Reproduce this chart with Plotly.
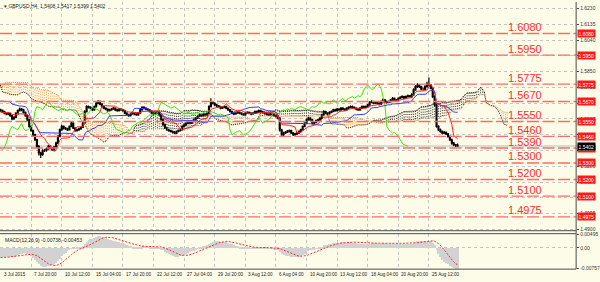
import numpy as np
import plotly.graph_objects as go

# ---------------- data (prices in pips above 1.5000) ----------------
BASE = 1.5
N_HIST = 77  # bars before the first visible bar (needed for the Ichimoku cloud / MACD)

closes_p = [
    610, 640, 665, 680, 690, 700, 705, 720, 760, 785,
    800, 830, 870, 900, 905, 895, 890, 880, 870, 885,
    880, 870, 865, 880, 890, 870, 860, 850, 840, 830,
    800, 770, 760, 740, 745, 760, 770, 790, 780, 770,
    765, 750, 740, 735, 725, 730, 735, 740, 755, 745,
    735, 740, 680, 700, 715, 740, 755, 745, 740, 735,
    720, 715, 715, 720, 715, 700, 660, 630, 620, 610,
    605, 600, 590, 610, 620, 615, 620,
    615, 610, 600, 595, 598, 585, 565, 575, 600, 615,
    625, 620, 605, 585, 560, 520, 495, 470, 440, 400,
    360, 350, 375, 375, 385, 400, 390, 380, 395, 420,
    460, 500, 520, 510, 505, 500, 520, 540, 510, 495,
    500, 505, 515, 540, 610, 640, 635, 630, 620, 640,
    660, 670, 655, 640, 630, 625, 615, 620, 625, 630,
    620, 615, 625, 620, 615, 600, 590, 585, 595, 600,
    595, 590, 600, 620, 635, 630, 625, 620, 610, 600,
    595, 600, 605, 590, 560, 530, 510, 500, 495, 490,
    485, 480, 490, 495, 500, 520, 530, 540, 545, 540,
    550, 560, 570, 580, 590, 585, 595, 590, 600, 640,
    665, 660, 650, 645, 640, 630, 635, 640, 630, 620,
    610, 600, 595, 600, 605, 600, 595, 590, 600, 605,
    600, 595, 600, 610, 605, 615, 610, 605, 600, 595,
    590, 595, 590, 585, 580, 570, 500, 470, 480, 485,
    490, 495, 480, 470, 475, 480, 490, 500, 520, 540,
    560, 570, 560, 540, 545, 555, 560, 570, 590, 610,
    600, 595, 605, 610, 620, 615, 625, 620, 630, 625,
    620, 630, 635, 640, 635, 630, 625, 620, 630, 640,
    635, 640, 650, 665, 670, 660, 665, 660, 655, 670,
    680, 670, 665, 670, 680, 690, 675, 680, 690, 695,
    700, 690, 700, 705, 700, 710, 740, 760, 770, 760,
    745, 745, 760, 775, 770, 750, 700, 650, 520, 500,
    490, 480, 485, 475, 460, 440, 420, 410, 408, 402,
]

opens_p = [
    600, 610, 640, 665, 680, 690, 700, 705, 720, 760,
    785, 800, 830, 870, 900, 905, 895, 890, 880, 870,
    885, 880, 870, 865, 880, 890, 870, 860, 850, 840,
    830, 800, 770, 760, 740, 745, 760, 770, 790, 780,
    770, 765, 750, 740, 735, 725, 730, 735, 740, 755,
    745, 735, 740, 680, 700, 715, 740, 755, 745, 740,
    735, 720, 715, 715, 720, 715, 700, 660, 630, 620,
    610, 605, 600, 590, 610, 620, 615,
    620, 615, 610, 600, 595, 598, 585, 565, 575, 600,
    615, 625, 620, 605, 585, 560, 520, 495, 470, 440,
    400, 360, 350, 375, 375, 385, 400, 390, 380, 395,
    420, 460, 500, 520, 510, 505, 500, 520, 540, 510,
    495, 500, 505, 515, 540, 610, 640, 635, 630, 620,
    640, 660, 670, 655, 640, 630, 625, 615, 620, 625,
    630, 620, 615, 625, 620, 615, 600, 590, 585, 595,
    600, 595, 590, 600, 620, 635, 630, 625, 620, 610,
    600, 595, 600, 605, 590, 560, 530, 510, 500, 495,
    490, 485, 480, 490, 495, 500, 520, 530, 540, 545,
    540, 550, 560, 570, 580, 590, 585, 595, 590, 600,
    640, 665, 660, 650, 645, 640, 630, 635, 640, 630,
    620, 610, 600, 595, 600, 605, 600, 595, 590, 600,
    605, 600, 595, 600, 610, 605, 615, 610, 605, 600,
    595, 590, 595, 590, 585, 580, 570, 500, 470, 480,
    485, 490, 495, 480, 470, 475, 480, 490, 500, 520,
    540, 560, 570, 560, 540, 545, 555, 560, 570, 590,
    610, 600, 595, 605, 610, 620, 615, 625, 620, 630,
    625, 620, 630, 635, 640, 635, 630, 625, 620, 630,
    640, 635, 640, 650, 665, 670, 660, 665, 660, 655,
    670, 680, 670, 665, 670, 680, 690, 675, 680, 690,
    695, 700, 690, 700, 705, 700, 710, 740, 760, 770,
    760, 745, 745, 760, 775, 770, 750, 700, 650, 520,
    500, 490, 480, 485, 475, 460, 440, 420, 410, 408,
]

highs_p = [
    618, 646, 672, 688, 698, 708, 714, 728, 770, 800,
    812, 838, 880, 912, 930, 912, 902, 896, 886, 892,
    894, 886, 878, 888, 898, 895, 876, 866, 856, 848,
    836, 806, 778, 766, 752, 768, 778, 798, 796, 786,
    778, 772, 756, 748, 740, 738, 742, 748, 762, 760,
    752, 746, 744, 708, 722, 748, 765, 760, 752, 746,
    740, 728, 724, 728, 726, 720, 704, 666, 636, 628,
    616, 612, 606, 616, 628, 626, 627,
    626, 622, 614, 606, 605, 603, 590, 582, 606, 622,
    635, 632, 626, 610, 590, 566, 526, 502, 476, 446,
    406, 368, 382, 385, 393, 408, 406, 396, 402, 428,
    468, 508, 530, 526, 516, 512, 526, 548, 545, 515,
    506, 512, 522, 548, 618, 648, 646, 642, 636, 646,
    668, 680, 676, 660, 646, 636, 630, 626, 632, 637,
    635, 626, 632, 630, 626, 620, 606, 596, 602, 607,
    606, 600, 606, 626, 642, 642, 636, 630, 625, 616,
    606, 606, 612, 610, 595, 566, 536, 516, 506, 500,
    496, 492, 496, 502, 506, 526, 536, 546, 552, 550,
    556, 566, 576, 586, 596, 596, 602, 600, 606, 648,
    690, 672, 666, 656, 650, 645, 642, 646, 645, 635,
    625, 616, 606, 606, 612, 610, 606, 600, 606, 612,
    610, 606, 606, 616, 616, 622, 620, 615, 610, 606,
    600, 602, 600, 596, 590, 586, 575, 506, 488, 492,
    498, 502, 500, 486, 482, 486, 496, 506, 526, 546,
    568, 578, 575, 565, 552, 562, 566, 576, 596, 618,
    615, 606, 612, 616, 626, 626, 632, 630, 636, 636,
    630, 636, 642, 646, 646, 640, 636, 630, 636, 646,
    646, 646, 656, 672, 678, 675, 672, 670, 666, 676,
    688, 686, 676, 676, 686, 698, 695, 686, 696, 702,
    708, 705, 706, 712, 710, 720, 750, 768, 780, 776,
    765, 755, 768, 790, 815, 776, 755, 706, 655, 528,
    508, 496, 492, 490, 480, 466, 446, 426, 415, 417,
]

lows_p = [
    594, 605, 635, 660, 674, 684, 695, 700, 715, 752,
    778, 795, 825, 862, 892, 885, 880, 872, 862, 864,
    872, 862, 856, 858, 874, 864, 852, 842, 832, 822,
    794, 762, 752, 732, 734, 740, 754, 765, 772, 762,
    758, 744, 733, 728, 718, 720, 724, 730, 736, 738,
    730, 728, 640, 672, 694, 710, 735, 738, 734, 728,
    714, 708, 708, 710, 708, 694, 654, 622, 612, 604,
    598, 592, 582, 586, 604, 608, 610,
    608, 603, 594, 588, 588, 578, 558, 560, 570, 596,
    610, 612, 598, 578, 552, 512, 488, 462, 432, 392,
    345, 330, 344, 366, 368, 380, 383, 372, 374, 390,
    415, 455, 494, 502, 498, 492, 495, 515, 504, 488,
    490, 494, 500, 510, 535, 604, 628, 624, 613, 615,
    635, 654, 648, 634, 624, 618, 608, 610, 615, 620,
    613, 608, 610, 614, 608, 594, 584, 578, 580, 590,
    588, 584, 585, 596, 615, 624, 618, 614, 604, 594,
    588, 590, 596, 584, 554, 524, 504, 494, 488, 484,
    478, 474, 475, 485, 490, 495, 514, 525, 534, 533,
    535, 545, 555, 565, 575, 578, 580, 584, 585, 595,
    635, 652, 644, 638, 634, 624, 625, 630, 624, 614,
    604, 594, 588, 590, 596, 594, 588, 584, 585, 596,
    594, 588, 590, 595, 598, 600, 604, 598, 594, 588,
    584, 585, 584, 578, 574, 564, 490, 458, 462, 474,
    480, 484, 474, 462, 464, 468, 474, 484, 495, 515,
    535, 554, 554, 534, 534, 540, 550, 555, 565, 585,
    594, 588, 590, 600, 605, 608, 610, 614, 615, 618,
    614, 615, 625, 630, 628, 624, 618, 614, 615, 625,
    628, 630, 635, 645, 660, 654, 655, 654, 648, 650,
    665, 664, 658, 660, 665, 675, 668, 670, 675, 685,
    690, 684, 685, 695, 694, 690, 705, 735, 752, 752,
    738, 736, 740, 755, 762, 744, 692, 640, 512, 492,
    482, 472, 474, 468, 452, 432, 410, 400, 396, 399,
]

levels = [1.6080, 1.5950, 1.5775, 1.5670, 1.5550, 1.5460, 1.5390, 1.5300, 1.5200, 1.5100, 1.4975]
price_ticks = [1.6230, 1.6135, 1.6040, 1.5945, 1.5850, 1.5755, 1.5660, 1.5565,
               1.5470, 1.5375, 1.5280, 1.5185, 1.5090, 1.4995, 1.4900]
# tick labels that the level boxes completely cover in the reference are left blank
price_tick_text = ["1.6230", "1.6135", "1.6040", "", "1.5850", "1.5755", "", "1.5565",
                   "", "", "1.5280", "1.5185", "1.5090", "1.4995", "1.4900"]
time_labels = ["3 Jul 2015", "7 Jul 20:00", "10 Jul 12:00", "15 Jul 04:00", "17 Jul 20:00",
               "22 Jul 12:00", "27 Jul 04:00", "29 Jul 20:00", "3 Aug 12:00", "6 Aug 04:00",
               "10 Aug 20:00", "13 Aug 12:00", "18 Aug 04:00", "20 Aug 20:00", "25 Aug 12:00"]
time_label_bars = [0, 16, 32, 48, 64, 80, 96, 112, 128, 144, 160, 176, 192, 208, 224]
last_price = 1.5402
header_text = "\u25be GBPUSD,H4  1.5408 1.5417 1.5399 1.5402"
macd_text = "MACD(12,26,9) -0.00738 -0.00453"
macd_tick_vals = [0.00495, 0.0, -0.00757]
macd_tick_text = ["0.00495", "0.00", "-0.00757"]

# ---------------- derived series ----------------
O = BASE + np.array(opens_p) / 1e4
H = BASE + np.array(highs_p) / 1e4
L = BASE + np.array(lows_p) / 1e4
C = BASE + np.array(closes_p) / 1e4
n = len(C)
bars = np.arange(n) - N_HIST
vis = bars >= 0


def midline(period):
    out = np.full(n, np.nan)
    for i in range(period - 1, n):
        out[i] = (H[i - period + 1:i + 1].max() + L[i - period + 1:i + 1].min()) / 2
    return out


tenkan = midline(9)
kijun = midline(26)
spanA = (tenkan + kijun) / 2
spanB = midline(52)
span_x = bars + 26


def ema(x, p):
    a = 2.0 / (p + 1)
    out = np.empty_like(x)
    out[0] = x[0]
    for i in range(1, len(x)):
        out[i] = a * x[i] + (1 - a) * out[i - 1]
    return out


macd = ema(C, 12) - ema(C, 26)
signal = np.full(n, np.nan)
for i in range(8, n):
    signal[i] = macd[i - 8:i + 1].mean()

# ---------------- geometry ----------------
W, HGT = 600, 282
PX_PER_BAR = 1.925
X0 = -0.3
X1 = X0 + 580 / PX_PER_BAR
PLOT_R = 580 / W
MAIN_BOT = (HGT - 232) / HGT
MACD_TOP = (HGT - 235) / HGT
MACD_BOT = (HGT - 271) / HGT
PRICE_PER_PX = 1 / 1683.0
Y_TOP = 1.6080 + 32 * PRICE_PER_PX
Y_BOT = 1.6080 - 200 * PRICE_PER_PX

BG = "#fdfce8"
GRID = "#c4c4c4"
FONT = "Liberation Sans, Arial, sans-serif"

fig = go.Figure()

# cloud hatching as dotted vertical strokes, one per bar
segs = {"up": ([], []), "dn": ([], [])}
for i in range(n):
    xs = span_x[i]
    if np.isnan(spanA[i]) or np.isnan(spanB[i]) or xs < X0 or xs > X1:
        continue
    key = "up" if spanA[i] >= spanB[i] else "dn"
    segs[key][0].extend([xs, xs, None])
    segs[key][1].extend([spanA[i], spanB[i], None])
fig.add_trace(go.Scatter(x=segs["dn"][0], y=segs["dn"][1], mode="lines",
                         line=dict(color="#f0a050", width=1, dash="1px,1.5px"), hoverinfo="skip"))
fig.add_trace(go.Scatter(x=segs["up"][0], y=segs["up"][1], mode="lines",
                         line=dict(color="#2a2a2a", width=1, dash="1px,1.5px"), hoverinfo="skip"))
mask = (span_x >= X0) & ~np.isnan(spanA)
fig.add_trace(go.Scatter(x=span_x[mask], y=spanB[mask], mode="lines",
                         line=dict(color="#e8883a", width=1, dash="1px,1px"), hoverinfo="skip"))
fig.add_trace(go.Scatter(x=span_x[mask], y=spanA[mask], mode="lines",
                         line=dict(color="#222222", width=1, dash="1px,1px"), hoverinfo="skip"))

# chikou, kijun, tenkan
ch_x = bars - 26
chm = ch_x >= -1
fig.add_trace(go.Scatter(x=ch_x[chm], y=C[chm], mode="lines",
                         line=dict(color="#3ee01a", width=1), hoverinfo="skip"))
fig.add_trace(go.Scatter(x=bars[vis], y=kijun[vis], mode="lines",
                         line=dict(color="#2b3cff", width=1), hoverinfo="skip"))
fig.add_trace(go.Scatter(x=bars[vis], y=tenkan[vis], mode="lines",
                         line=dict(color="#ff2020", width=1), hoverinfo="skip"))

# candles
fig.add_trace(go.Candlestick(
    x=bars[vis], open=O[vis], high=H[vis], low=L[vis], close=C[vis],
    increasing=dict(line=dict(color="#000000", width=1.2), fillcolor="#ffffff"),
    decreasing=dict(line=dict(color="#000000", width=1.2), fillcolor="#000000"),
    whiskerwidth=0, hoverinfo="skip", xaxis="x", yaxis="y"))

# MACD panel
fig.add_trace(go.Bar(x=bars[vis], y=macd[vis], marker=dict(color="#d2d2d2", line=dict(width=0)),
                     width=0.5, xaxis="x2", yaxis="y2", hoverinfo="skip"))
fig.add_trace(go.Scatter(x=bars[vis], y=signal[vis], mode="lines", xaxis="x2", yaxis="y2",
                         line=dict(color="#ff2a2a", width=1, dash="2px,1.5px"), hoverinfo="skip"))

shapes = []
annotations = []

# support / resistance levels
for lv in levels:
    shapes.append(dict(type="line", xref="paper", yref="y", x0=0, x1=PLOT_R, y0=lv, y1=lv,
                       line=dict(color="#ff6a6a", width=1.4, dash="12px,3.5px"), layer="above"))
    annotations.append(dict(xref="paper", yref="y", x=529 / W, y=lv, yshift=6.5, text=f"{lv:.4f}",
                            showarrow=False, xanchor="center", yanchor="middle",
                            font=dict(family=FONT, size=11, color="#ff2e2e")))
    annotations.append(dict(xref="paper", yref="y", x=581 / W, y=lv, text=f"{lv:.4f}",
                            showarrow=False, xanchor="left", yanchor="middle", bgcolor="#ff1a1a",
                            borderpad=0.5, font=dict(family=FONT, size=5, color="#ffffff")))

# last price line and label
shapes.append(dict(type="line", xref="paper", yref="y", x0=0, x1=PLOT_R, y0=last_price, y1=last_price,
                   line=dict(color="#b8b8b8", width=1), layer="below"))
annotations.append(dict(xref="paper", yref="y", x=581 / W, y=last_price, text=f"{last_price:.4f}",
                        showarrow=False, xanchor="left", yanchor="middle", bgcolor="#000000",
                        borderpad=0.5, font=dict(family=FONT, size=5, color="#ffffff")))

# frame lines
frame = "#4a4a4a"
shapes += [
    dict(type="line", xref="paper", yref="paper", x0=PLOT_R, x1=PLOT_R, y0=MACD_BOT, y1=1,
         line=dict(color=frame, width=1)),
    dict(type="line", xref="paper", yref="paper", x0=0, x1=PLOT_R, y0=MAIN_BOT, y1=MAIN_BOT,
         line=dict(color=frame, width=1)),
    dict(type="line", xref="paper", yref="paper", x0=0, x1=PLOT_R, y0=MACD_TOP, y1=MACD_TOP,
         line=dict(color=frame, width=1)),
    dict(type="line", xref="paper", yref="paper", x0=0, x1=PLOT_R, y0=MACD_BOT, y1=MACD_BOT,
         line=dict(color=frame, width=1)),
]

# time labels
for b, t in zip(time_label_bars, time_labels):
    annotations.append(dict(xref="x", yref="paper", x=b + 0.6, y=5.5 / HGT, text=t, showarrow=False,
                            xanchor="left", yanchor="middle", font=dict(family=FONT, size=4.6, color="#222222")))

annotations.append(dict(xref="paper", yref="paper", x=2 / W, y=1 - 4.5 / HGT, text=header_text,
                        showarrow=False, xanchor="left", yanchor="middle",
                        font=dict(family=FONT, size=5, color="#222222")))
annotations.append(dict(xref="paper", yref="paper", x=3 / W, y=1 - 241 / HGT, text=macd_text,
                        showarrow=False, xanchor="left", yanchor="middle",
                        font=dict(family=FONT, size=5, color="#222222")))

grid_common = dict(showgrid=True, gridcolor=GRID, griddash="dot", gridwidth=1, zeroline=False)

fig.update_layout(
    width=W, height=HGT, margin=dict(l=0, r=0, t=0, b=0),
    paper_bgcolor=BG, plot_bgcolor=BG, showlegend=False, bargap=0,
    xaxis=dict(domain=[0, PLOT_R], range=[X0, X1], anchor="y", tickvals=time_label_bars,
               showticklabels=False, rangeslider=dict(visible=False), **grid_common),
    xaxis2=dict(domain=[0, PLOT_R], range=[X0, X1], anchor="y2", matches="x", tickvals=time_label_bars,
                showticklabels=False, **grid_common),
    yaxis=dict(domain=[MAIN_BOT, 1], range=[Y_BOT, Y_TOP], side="right", anchor="x",
               tickvals=price_ticks, ticktext=price_tick_text,
               tickfont=dict(family=FONT, size=5, color="#333333"), ticks="outside", ticklen=2,
               tickcolor="#444444", **grid_common),
    yaxis2=dict(domain=[MACD_BOT, MACD_TOP], range=[-0.00794, 0.00532], side="right", anchor="x2",
                tickvals=macd_tick_vals, ticktext=macd_tick_text,
                tickfont=dict(family=FONT, size=5, color="#333333"), ticks="outside", ticklen=2,
                tickcolor="#444444", **grid_common),
    shapes=shapes, annotations=annotations,
)

fig.write_html("out.html")
